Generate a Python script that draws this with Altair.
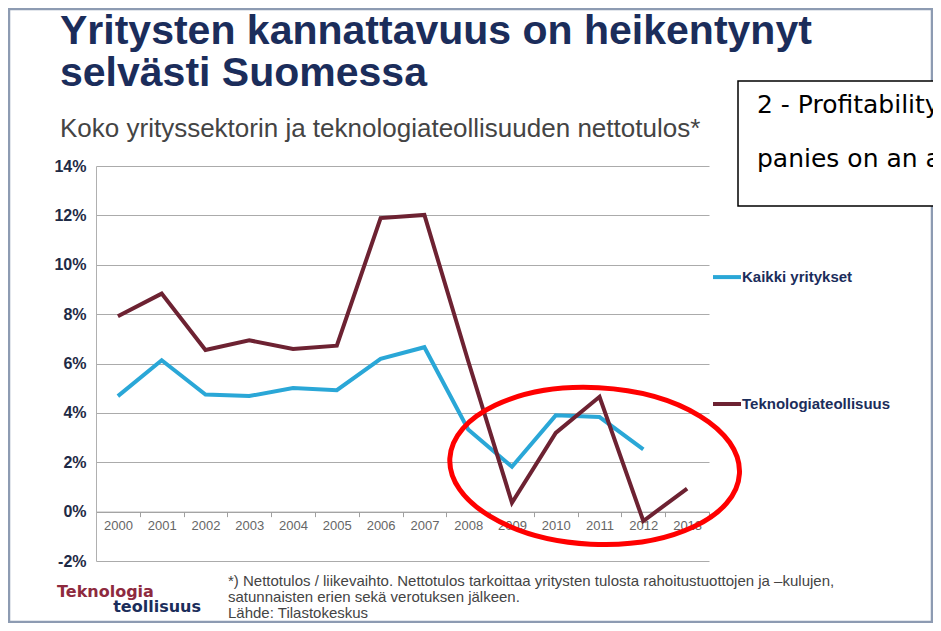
import altair as alt
import pandas as pd

# ---- data ----
years = ["2000", "2001", "2002", "2003", "2004", "2005", "2006",
         "2007", "2008", "2009", "2010", "2011", "2012", "2013"]
kaikki = [4.68, 6.13, 4.74, 4.68, 5.01, 4.92, 6.19, 6.66, 3.33, 1.82, 3.90, 3.83, 2.52, None]
tekno = [7.91, 8.83, 6.55, 6.94, 6.59, 6.72, 11.89, 12.02, 6.10, 0.36, 3.19, 4.65, -0.38, 0.93]
series_names = ["Kaikki yritykset", "Teknologiateollisuus"]
legend_pos = [9.5, 4.36]
y_ticks = [-2, 0, 2, 4, 6, 8, 10, 12, 14]
highlight_year = ["2011"]
highlight_value = [1.85]

title_lines = ["Yritysten kannattavuus on heikentynyt", "selvästi Suomessa"]
subtitle = "Koko yrityssektorin ja teknologiateollisuuden nettotulos*"
footnote = ["*) Nettotulos / liikevaihto. Nettotulos tarkoittaa yritysten tulosta rahoitustuottojen ja \u2013kulujen,",
            "satunnaisten  erien sekä verotuksen jälkeen.",
            "Lähde: Tilastokeskus"]
logo = ["Teknologia", "teollisuus"]
box_lines = ["2 - Profitability of com-", "panies on an annual basis"]

# ---- tables ----
rows = []
for name, vals in zip(series_names, [kaikki, tekno]):
    for yr, v in zip(years, vals):
        if v is not None:
            rows.append({"year": yr, "series": name, "value": v})
df = pd.DataFrame(rows)
leg = pd.DataFrame({"series": series_names, "value": legend_pos})
hl = pd.DataFrame({"year": highlight_year, "value": highlight_value})
one = pd.DataFrame({"a": [0]})

W, H = 613, 395
FONT = "Liberation Sans"
NAVY = "#1B2D5B"

yscale = alt.Scale(domain=[-2, 14], nice=False, zero=False)
xscale = alt.Scale(domain=years, type="band", paddingInner=0, paddingOuter=0)
cscale = alt.Scale(domain=series_names, range=["#2AA7D7", "#6D2232"])

x_enc = alt.X("year:N", scale=xscale, bandPosition=0.5, title=None,
              axis=alt.Axis(orient="bottom", offset=-H * 2 / 16, tickBand="extent",
                            domainColor="#A0A0A0", tickColor="#A0A0A0", tickSize=5,
                            labelColor="#666666", labelFontSize=13, labelFont=FONT,
                            labelPadding=3, labelAngle=0, grid=False))
y_enc = alt.Y("value:Q", scale=yscale, title=None,
              axis=alt.Axis(values=y_ticks, labelExpr="datum.value + '%'", grid=True,
                            gridColor="#ABABAB", gridWidth=1, ticks=False, domain=True,
                            domainColor="#B0B0B0", labelFontWeight="bold", labelFontSize=16,
                            labelFont=FONT, labelColor="#1E2A45", labelPadding=10))

lines = alt.Chart(df).mark_line(strokeWidth=4).encode(
    x=x_enc, y=y_enc,
    color=alt.Color("series:N", scale=cscale, legend=None),
)

leg_rule = alt.Chart(leg).mark_rule(strokeWidth=4).encode(
    x=alt.value(617), x2=alt.value(645),
    y=alt.Y("value:Q", scale=yscale),
    color=alt.Color("series:N", scale=cscale, legend=None),
)
leg_text = alt.Chart(leg).mark_text(align="left", baseline="middle", fontWeight="bold",
                                    fontSize=15, font=FONT, color=NAVY).encode(
    x=alt.value(646), y=alt.Y("value:Q", scale=yscale), text="series:N")

ellipse = alt.Chart(hl).mark_point(
    shape="M-1,0A1,0.54,0,1,0,1,0A1,0.54,0,1,0,-1,0Z",
    size=290 * 290, filled=False, stroke="#FF0000", strokeWidth=5, opacity=1, angle=3,
).encode(x=alt.X("year:N", scale=xscale),
         y=alt.Y("value:Q", scale=yscale), xOffset=alt.value(17))


def txt(s, x, y, size, color, weight="normal", align="left", font=FONT, baseline="alphabetic"):
    return alt.Chart(one).mark_text(align=align, baseline=baseline, fontSize=size,
                                    fontWeight=weight, font=font, color=color).encode(
        x=alt.value(x), y=alt.value(y), text=alt.value(s))


frame = alt.Chart(one).mark_rect(fill="white", fillOpacity=0, stroke="#8D9BB2", strokeWidth=2.5).encode(
    x=alt.value(-87), x2=alt.value(836), y=alt.value(-157), y2=alt.value(456))
box = alt.Chart(one).mark_rect(fill="white", stroke="black", strokeWidth=1.5).encode(
    x=alt.value(642), x2=alt.value(900), y=alt.value(-85), y2=alt.value(40))

texts = [
    txt(title_lines[0], -36, -122, 41, NAVY, "bold"),
    txt(title_lines[1], -36, -80, 41, NAVY, "bold"),
    txt(subtitle, -36, -29, 26, "#444444"),
    txt(footnote[0], 132, 415, 15, "#444444", baseline="middle"),
    txt(footnote[1], 132, 431, 15, "#444444", baseline="middle"),
    txt(footnote[2], 132, 447, 15, "#444444", baseline="middle"),
    txt(logo[0], -39, 426, 16, "#8E2A3E", "bold", font="DejaVu Sans", baseline="middle"),
    txt(logo[1], 105, 441, 16, NAVY, "bold", align="right", font="DejaVu Sans", baseline="middle"),
]
box_texts = [
    txt(box_lines[0], 661, -53, 25, "black", font="DejaVu Sans"),
    txt(box_lines[1], 661, 1, 25, "black", font="DejaVu Sans"),
]

chart = alt.layer(frame, lines, leg_rule, leg_text, ellipse, *texts, box, *box_texts).properties(
    width=W, height=H,
    autosize=alt.AutoSizeParams(type="none"),
    padding={"left": 88, "top": 158, "right": 224, "bottom": 62},
    background="white",
).configure_view(strokeWidth=0)

chart.save("out.html", embed_options={"renderer": "svg", "actions": False})
